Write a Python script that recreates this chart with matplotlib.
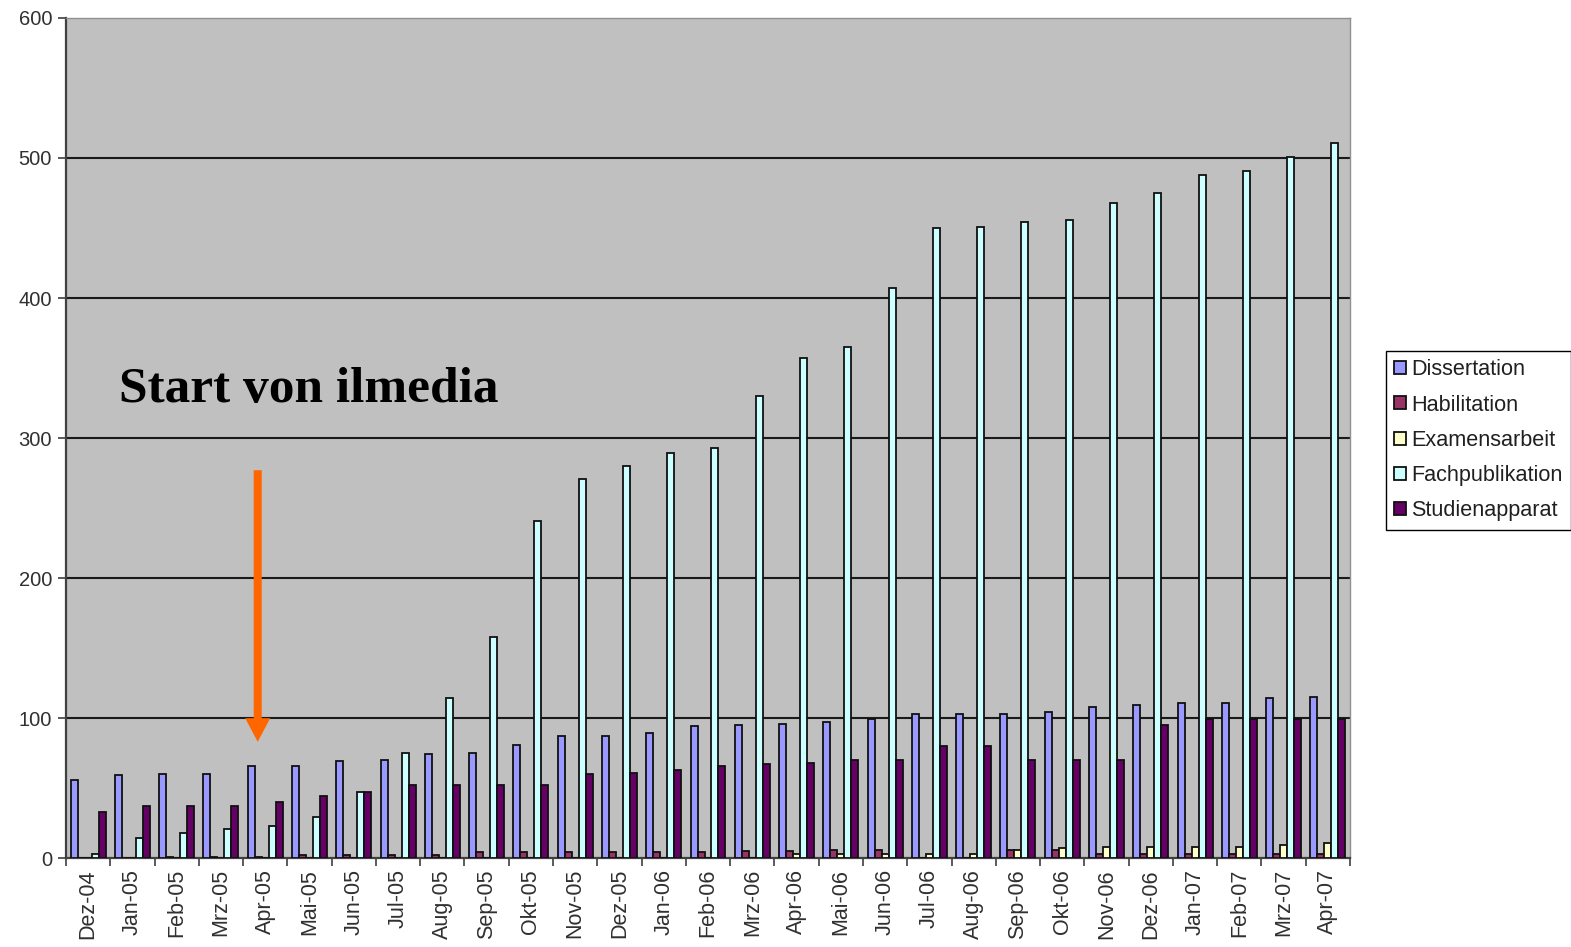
import numpy as np
import matplotlib
matplotlib.use("Agg")
import matplotlib.pyplot as plt

# Monthly counts of documents per publication type
months = ['Dez-04', 'Jan-05', 'Feb-05', 'Mrz-05', 'Apr-05', 'Mai-05', 'Jun-05',
          'Jul-05', 'Aug-05', 'Sep-05', 'Okt-05', 'Nov-05', 'Dez-05', 'Jan-06',
          'Feb-06', 'Mrz-06', 'Apr-06', 'Mai-06', 'Jun-06', 'Jul-06', 'Aug-06',
          'Sep-06', 'Okt-06', 'Nov-06', 'Dez-06', 'Jan-07', 'Feb-07', 'Mrz-07',
          'Apr-07']

dissertation = [56, 59, 60, 60, 66, 66, 69, 70, 74, 75, 81, 87, 87, 89, 94,
                95, 96, 97, 99, 103, 103, 103, 104, 108, 109, 111, 111, 114, 115]
habilitation = [0, 0, 1, 1, 1, 2, 2, 2, 2, 4, 4, 4, 4, 4, 4,
                5, 5, 6, 6, 0, 0, 6, 6, 3, 3, 3, 3, 3, 3]
examensarbeit = [0, 0, 0, 0, 0, 0, 0, 0, 0, 0, 0, 0, 0, 0, 0,
                 0, 3, 3, 3, 3, 3, 6, 7, 8, 8, 8, 8, 9, 11]
fachpublikation = [3, 14, 18, 21, 23, 29, 47, 75, 114, 158, 241, 271, 280, 289, 293,
                   330, 357, 365, 407, 450, 451, 454, 456, 468, 475, 488, 491, 501, 511]
studienapparat = [33, 37, 37, 37, 40, 44, 47, 52, 52, 52, 52, 60, 61, 63, 66,
                  67, 68, 70, 70, 80, 80, 70, 70, 70, 95, 99, 99, 99, 99]

series_names = ['Dissertation', 'Habilitation', 'Examensarbeit',
                'Fachpublikation', 'Studienapparat']
series_values = [dissertation, habilitation, examensarbeit,
                 fachpublikation, studienapparat]
series_colors = ['#9999FF', '#993366', '#FFFFCC', '#CCFFFF', '#660066']

y_ticks = [0, 100, 200, 300, 400, 500, 600]

plt.rcParams['font.family'] = ['Liberation Sans', 'DejaVu Sans']

fig = plt.figure(figsize=(15.71, 9.47), dpi=100)
fig.patch.set_facecolor('white')
ax = fig.add_axes([66 / 1571, 1 - 858 / 947, (1350 - 66) / 1571, (858 - 18) / 947])
ax.set_facecolor('#C0C0C0')

x = np.arange(len(months))
bar_w = 0.158
handles = []
for i, (name, vals, col) in enumerate(zip(series_names, series_values, series_colors)):
    h = ax.bar(x + (i - 2) * bar_w, vals, width=bar_w, color=col,
               edgecolor='#101010', linewidth=1.3, label=name, zorder=3)
    handles.append(h)

ax.set_xlim(-0.5, len(months) - 0.5)
ax.set_ylim(0, 600)

# horizontal gridlines
ax.set_yticks(y_ticks)
for v in y_ticks[1:-1]:
    ax.axhline(v, color='#1a1a1a', linewidth=1.5, zorder=1)

ax.set_yticklabels([str(v) for v in y_ticks], fontsize=14.5, color='#303030')
ax.tick_params(axis='y', length=6, width=1.2, color='#404040', pad=4, direction='out')

# category labels centred, tick marks between categories
ax.set_xticks(x)
ax.set_xticklabels(months, rotation=90, fontsize=15.5, color='#303030')
ax.tick_params(axis='x', which='major', length=0, pad=8)
ax.set_xticks(np.arange(-0.5, len(months), 1.0), minor=True)
ax.tick_params(axis='x', which='minor', length=6, width=1.2, color='#404040',
               direction='out')

for side in ['left', 'bottom']:
    ax.spines[side].set_color('#404040')
    ax.spines[side].set_linewidth(1.6)
for side in ['top', 'right']:
    ax.spines[side].set_color('#909090')
    ax.spines[side].set_linewidth(1.0)

# annotation marking the launch
ax.text(0.70, 326, 'Start von ilmedia', fontsize=37, fontweight='bold',
        family=['Liberation Serif', 'DejaVu Serif'], color='black',
        va='baseline', ha='left', zorder=5)
ax.annotate('', xy=(3.83, 83), xytext=(3.83, 277),
            arrowprops=dict(arrowstyle='simple,head_length=17,head_width=18,tail_width=5.8',
                            mutation_scale=1, color='#FF6600', lw=0,
                            shrinkA=0, shrinkB=0),
            zorder=5)

leg = fig.legend(handles=handles, labels=series_names,
                 loc='upper left', bbox_to_anchor=(1386 / 1571, 1 - 351 / 947),
                 fontsize=15.6, frameon=True, fancybox=False, framealpha=1,
                 edgecolor='black', handlelength=0.55, handleheight=0.55,
                 handletextpad=0.25, labelspacing=0.66, borderpad=0.38,
                 borderaxespad=0)
leg.get_frame().set_linewidth(1.0)
for t in leg.get_texts():
    t.set_color('#202020')

fig.savefig('out.png', dpi=100, facecolor='white')
